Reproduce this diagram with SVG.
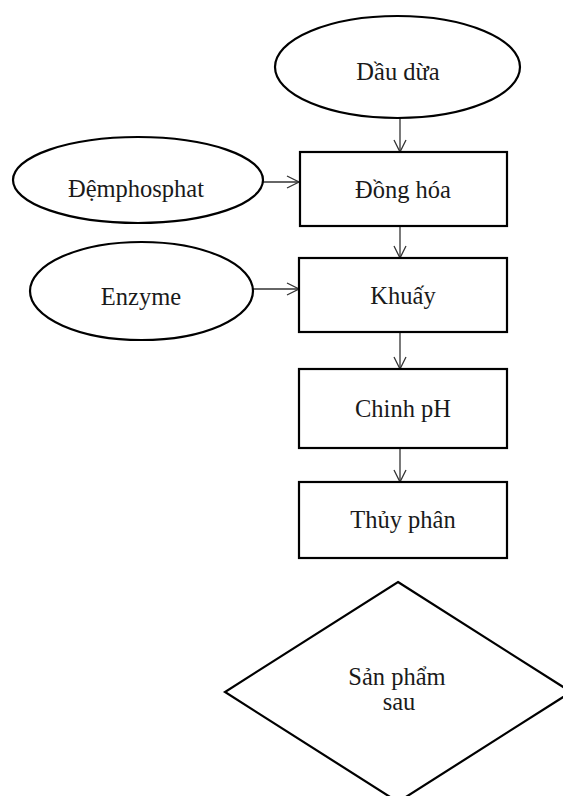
<svg xmlns="http://www.w3.org/2000/svg" width="563" height="796" viewBox="0 0 563 796">
<style>
.n{fill:#fff;stroke:#000;stroke-width:2.2}
.t{font-family:"Liberation Serif","Times New Roman",serif;font-size:24.5px;fill:#1a1a1a;text-anchor:middle}
.c{stroke:#333;stroke-width:1.3;fill:none}
</style>
<defs>
<marker id="a" markerWidth="14" markerHeight="14" refX="13" refY="7" orient="auto" markerUnits="userSpaceOnUse">
<path d="M1,1 L13,7 L1,13" fill="none" stroke="#333" stroke-width="1.3"/>
</marker>
</defs>
<rect width="563" height="796" fill="#fff"/>
<g id="connectors">
<line class="c" x1="400" y1="118" x2="400" y2="152" marker-end="url(#a)"/>
<line class="c" x1="263" y1="182" x2="299" y2="182" marker-end="url(#a)"/>
<line class="c" x1="400" y1="226" x2="400" y2="258" marker-end="url(#a)"/>
<line class="c" x1="253" y1="289" x2="299" y2="289" marker-end="url(#a)"/>
<line class="c" x1="400" y1="332" x2="400" y2="369" marker-end="url(#a)"/>
<line class="c" x1="400" y1="448" x2="400" y2="482" marker-end="url(#a)"/>
</g>
<g id="dau-dua">
<ellipse class="n" cx="397.5" cy="67" rx="122.5" ry="51"/>
<text class="t" x="398" y="80">Dầu dừa</text>
</g>
<g id="dem-phosphat">
<ellipse class="n" cx="138" cy="180" rx="125" ry="43"/>
<text class="t" x="136" y="197">Đệmphosphat</text>
</g>
<g id="enzyme">
<ellipse class="n" cx="141.5" cy="291" rx="111.5" ry="49"/>
<text class="t" x="141" y="305">Enzyme</text>
</g>
<g id="dong-hoa">
<rect class="n" x="300" y="152" width="207" height="74"/>
<text class="t" x="403" y="198">Đồng hóa</text>
</g>
<g id="khuay">
<rect class="n" x="299" y="258" width="208" height="74"/>
<text class="t" x="403" y="304">Khuấy</text>
</g>
<g id="chinh-ph">
<rect class="n" x="299" y="369" width="208" height="79"/>
<text class="t" x="403" y="417">Chinh pH</text>
</g>
<g id="thuy-phan">
<rect class="n" x="299" y="482" width="208" height="76"/>
<text class="t" x="403" y="528">Thủy phân</text>
</g>
<g id="san-pham-sau">
<polygon class="n" points="398,582 571,692 398,802 225,692"/>
<text class="t" x="397" y="685">Sản phẩm</text>
<text class="t" x="399" y="710">sau</text>
</g>
</svg>
